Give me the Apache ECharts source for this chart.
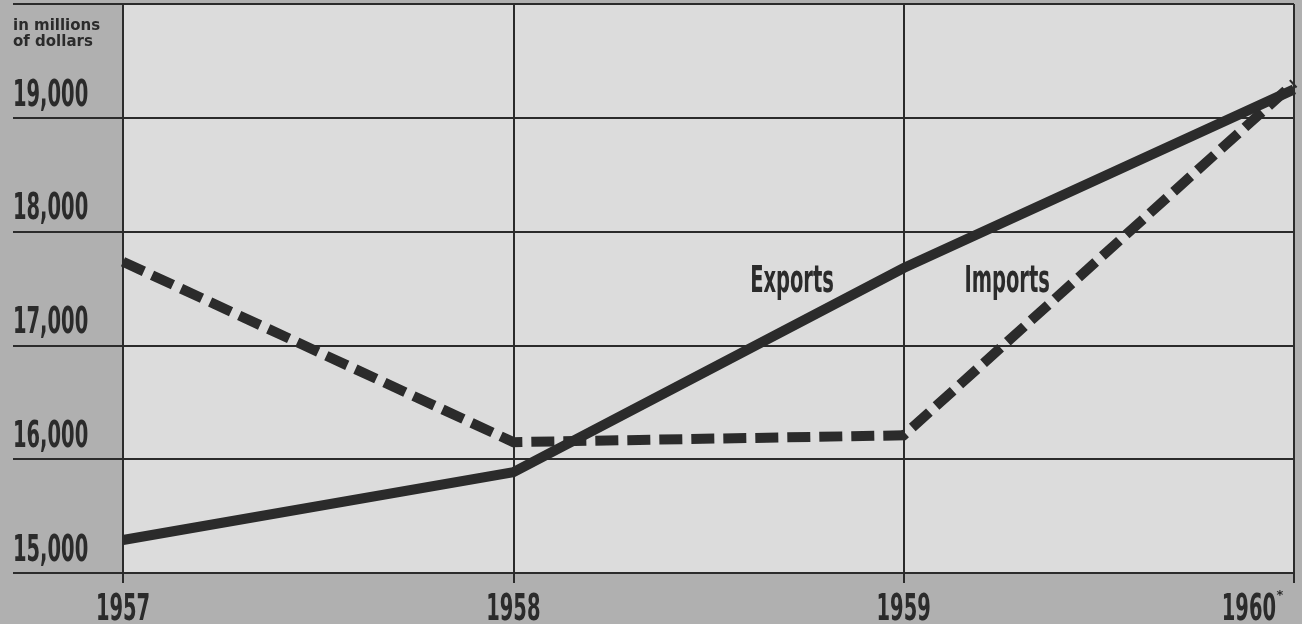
<!DOCTYPE html>
<html>
<head>
<meta charset="utf-8">
<script src="https://cdn.jsdelivr.net/npm/echarts@6/dist/echarts.min.js"></script>
<style>
html,body{margin:0;padding:0;background:#b0b0b0;}
#c{width:1302px;height:624px;}
</style>
</head>
<body>
<div id="c"></div>
<script>
const years = [1957, 1958, 1959, 1960];
const yearLabels = ['1957', '1958', '1959', '1960'];
const exportsVals = [15290, 15885, 17680, 19250];
const importsVals = [17735, 16150, 16210, 19305];
const yTicks = [15000, 16000, 17000, 18000, 19000];
const yTickLabels = ['15,000', '16,000', '17,000', '18,000', '19,000'];
const unitText = 'in millions\nof dollars';
const seriesNames = ['Exports', 'Imports'];
const seriesLabelAt = [[1958.714, 17560], [1959.265, 17560]];

const ink = '#2b2b2b';
const condFont = 'bold 38px "DejaVu Sans Condensed", "DejaVu Sans", sans-serif';
const squeeze = 0.57;
const gridLine = { show: true, lineStyle: { color: ink, width: 2 } };

const chart = echarts.init(document.getElementById('c'));
chart.setOption({
  backgroundColor: '#b0b0b0',
  animation: false,
  grid: [
    { left: 13, width: 110, top: 4, bottom: 51, show: false },
    { left: 123, right: 8, top: 4, bottom: 51, show: true, backgroundColor: '#dcdcdc', borderWidth: 0 }
  ],
  xAxis: [
    { gridIndex: 0, type: 'value', min: 0, max: 1, show: false },
    {
      gridIndex: 1, type: 'value', min: years[0], max: years[years.length - 1], interval: 1,
      axisLine: { show: true, lineStyle: { color: ink, width: 2 } },
      axisTick: { show: true, length: 10, lineStyle: { color: ink, width: 2 } },
      splitLine: gridLine,
      axisLabel: { show: false }
    }
  ],
  yAxis: [
    {
      gridIndex: 0, type: 'value', min: 15000, max: 20000, interval: 1000,
      axisLine: { show: false }, axisTick: { show: false }, axisLabel: { show: false },
      splitLine: gridLine
    },
    {
      gridIndex: 1, type: 'value', min: 15000, max: 20000, interval: 1000,
      axisLine: { show: false }, axisTick: { show: false }, axisLabel: { show: false },
      splitLine: gridLine
    }
  ],
  series: [
    {
      name: seriesNames[0], type: 'line', xAxisIndex: 1, yAxisIndex: 1, clip: false,
      data: years.map((y, i) => [y, exportsVals[i]]),
      symbol: 'none', lineStyle: { color: ink, width: 10, cap: 'butt', join: 'miter' }, z: 3
    },
    {
      name: seriesNames[1], type: 'line', xAxisIndex: 1, yAxisIndex: 1, clip: false,
      data: years.map((y, i) => [y, importsVals[i]]),
      symbol: 'none', lineStyle: { color: ink, width: 10, type: [23, 9], cap: 'butt', join: 'miter' }, z: 4
    }
  ]
});

// Text labels positioned through the chart's own scales, drawn as condensed real text
const px = (x, y) => chart.convertToPixel({ xAxisIndex: 1, yAxisIndex: 1 }, [x, y]);
const leftX = chart.convertToPixel({ xAxisIndex: 0, yAxisIndex: 0 }, [0, 15000])[0];
const g = [];
g.push({
  type: 'text', x: leftX, y: 18, z: 10,
  style: { text: unitText, fill: ink, font: 'bold 15px "DejaVu Sans", sans-serif', lineHeight: 16 }
});
yTicks.forEach((v, i) => {
  const p = px(years[0], v);
  g.push({
    type: 'text', x: leftX, y: p[1] - 22, scaleX: squeeze, z: 10,
    style: { text: yTickLabels[i], fill: ink, font: condFont, align: 'left', verticalAlign: 'middle' }
  });
});
years.forEach((yr, i) => {
  const p = px(yr, 15000);
  const last = i === years.length - 1;
  g.push({
    type: 'text', x: last ? p[0] - 18 : p[0], y: p[1] + 37, scaleX: squeeze, z: 10,
    style: { text: yearLabels[i], fill: ink, font: condFont, align: last ? 'right' : 'center', verticalAlign: 'middle' }
  });
  if (last) {
    g.push({
      type: 'text', x: p[0] - 14, y: p[1] + 23, z: 10,
      style: { text: '*', fill: ink, font: 'bold 13px "DejaVu Sans", sans-serif', align: 'center', verticalAlign: 'middle' }
    });
  }
});
seriesNames.forEach((n, i) => {
  const p = px(seriesLabelAt[i][0], seriesLabelAt[i][1]);
  g.push({
    type: 'text', x: p[0], y: p[1], scaleX: squeeze, z: 10,
    style: { text: n, fill: ink, font: condFont, align: 'center', verticalAlign: 'middle' }
  });
});
chart.setOption({ graphic: g });
</script>
</body>
</html>
